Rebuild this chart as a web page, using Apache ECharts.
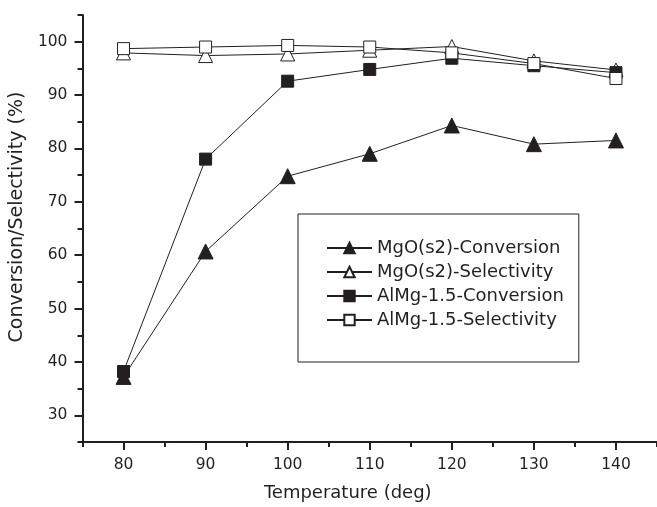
<!DOCTYPE html>
<html>
<head>
<meta charset="UTF-8">
<title>Conversion / Selectivity</title>
<script src="https://cdn.jsdelivr.net/npm/echarts@6/dist/echarts.min.js"></script>
<style>
  *{margin:0;padding:0;}
  body{background:#fff;}
  #main{width:657px;height:507px;}
</style>
</head>
<body>
<div id="main"></div>
<script>
// data
var temps = [80, 90, 100, 110, 120, 130, 140];
var mgoConv = [37.2, 60.7, 74.8, 79.0, 84.3, 80.8, 81.5];
var mgoSel = [97.9, 97.4, 97.7, 98.4, 99.1, 96.4, 94.7];
var almgConv = [38.2, 78.0, 92.6, 94.8, 96.9, 95.5, 94.2];
var almgSel = [98.7, 99.0, 99.3, 99.0, 97.9, 95.9, 93.1];

var seriesNames = ['MgO(s2)-Conversion', 'MgO(s2)-Selectivity', 'AlMg-1.5-Conversion', 'AlMg-1.5-Selectivity'];

// tick positions
var xMajor = [80, 90, 100, 110, 120, 130, 140];
var xMinor = [75, 85, 95, 105, 115, 125, 135, 145];
var yMajor = [30, 40, 50, 60, 70, 80, 90, 100];
var yMinor = [25, 35, 45, 55, 65, 75, 85, 95, 105];

var ink = '#231f20';
var font = 'DejaVu Sans, sans-serif';

function pairs(ys) {
  return temps.map(function (t, i) { return [t, ys[i]]; });
}

function mkSeries(name, ys, symbol, size, filled) {
  return {
    name: name,
    type: 'line',
    xAxisIndex: 0,
    yAxisIndex: 0,
    data: pairs(ys),
    symbol: symbol,
    symbolSize: size,
    showAllSymbol: true,
    lineStyle: {color: ink, width: 1},
    itemStyle: {
      color: filled ? ink : '#fff',
      borderColor: ink,
      borderWidth: 1
    },
    emphasis: {disabled: true},
    animation: false
  };
}

var myChart = echarts.init(document.getElementById('main'));

var option = {
  animation: false,
  textStyle: {fontFamily: font, color: ink},
  grid: {left: 82, right: 0, top: 15, bottom: 63, containLabel: false},
  legend: {
    orient: 'vertical',
    left: 298,
    top: 214,
    data: seriesNames,
    itemWidth: 45,
    itemHeight: 13,
    itemGap: 6,
    padding: [25, 15, 33, 28],
    borderColor: ink,
    borderWidth: 1,
    textStyle: {fontSize: 18, lineHeight: 18, color: ink, fontFamily: font},
    selectedMode: false
  },
  xAxis: [{
    type: 'value',
    min: 75,
    max: 145,
    name: 'Temperature (deg)',
    nameLocation: 'middle',
    nameGap: 42,
    nameTextStyle: {fontSize: 18, color: ink, fontFamily: font, padding: [0, 44, 0, 0]},
    axisLine: {lineStyle: {color: ink, width: 2}},
    axisTick: {customValues: xMajor, length: 8, lineStyle: {color: ink, width: 2}},
    axisLabel: {customValues: xMajor, fontSize: 15.5, color: ink, margin: 15, fontFamily: font},
    splitLine: {show: false}
  }, {
    type: 'value',
    min: 75,
    max: 145,
    position: 'bottom',
    axisLine: {show: false},
    axisTick: {customValues: xMinor, length: 5, lineStyle: {color: ink, width: 2}},
    axisLabel: {show: false},
    splitLine: {show: false}
  }],
  yAxis: [{
    type: 'value',
    min: 25,
    max: 105,
    name: 'Conversion/Selectivity (%)',
    nameLocation: 'middle',
    nameRotate: 90,
    nameGap: 48,
    nameTextStyle: {fontSize: 19, color: ink, fontFamily: font, padding: [0, 0, 0, 23]},
    axisLine: {show: true, lineStyle: {color: ink, width: 2}},
    axisTick: {show: true, customValues: yMajor, length: 8, lineStyle: {color: ink, width: 2}},
    axisLabel: {customValues: yMajor, fontSize: 15.5, color: ink, margin: 15, fontFamily: font},
    splitLine: {show: false}
  }, {
    type: 'value',
    min: 25,
    max: 105,
    position: 'left',
    axisLine: {show: false},
    axisTick: {show: true, customValues: yMinor, length: 5, lineStyle: {color: ink, width: 2}},
    axisLabel: {show: false},
    splitLine: {show: false}
  }],
  series: [
    mkSeries(seriesNames[0], mgoConv, 'triangle', 15, true),
    mkSeries(seriesNames[1], mgoSel, 'triangle', 14, false),
    mkSeries(seriesNames[2], almgConv, 'rect', 12, true),
    mkSeries(seriesNames[3], almgSel, 'rect', 12, false)
  ]
};

myChart.setOption(option);
</script>
</body>
</html>
